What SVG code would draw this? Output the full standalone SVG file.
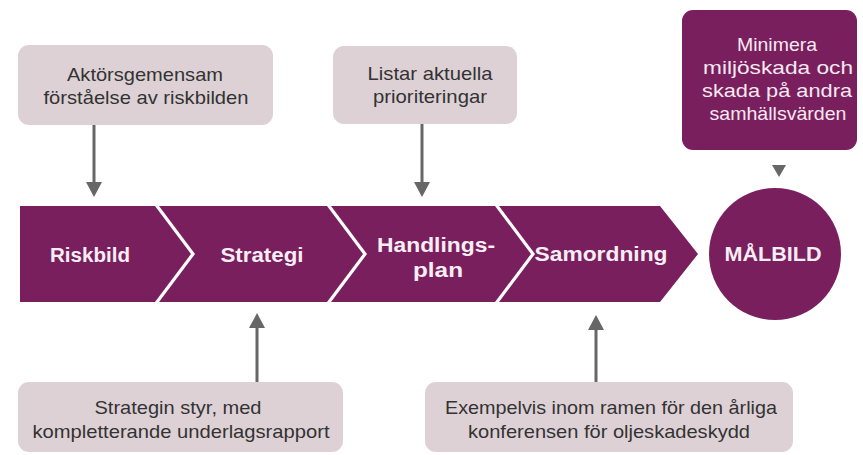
<svg xmlns="http://www.w3.org/2000/svg" width="863" height="455" viewBox="0 0 863 455">
<defs>
<style>
.band{fill:#7a1f5d}
.note{fill:#ddd1d6}
.goal{fill:#7a1f5d}
.nt{font-family:"Liberation Sans",Arial,sans-serif;font-size:19px;fill:#333;text-anchor:middle}
.gt{font-family:"Liberation Sans",Arial,sans-serif;font-size:19px;fill:#f6e9f1;text-anchor:middle}
.bt{font-family:"Liberation Sans",Arial,sans-serif;font-size:20px;font-weight:bold;fill:#f7eef4;text-anchor:middle}
.ln{stroke:#676767;stroke-width:3;fill:none}
.ah{fill:#676767}
</style>
</defs>
<rect width="863" height="455" fill="#ffffff"/>
<g id="riskbild">
<polygon class="band" points="20,206 155,206 191,254 155,302 20,302"/>
<text class="bt" x="90" y="262" textLength="80" lengthAdjust="spacingAndGlyphs">Riskbild</text>
</g>
<g id="strategi">
<polygon class="band" points="159,206 327,206 363,254 327,302 159,302 195,254"/>
<text class="bt" x="262" y="262" textLength="83" lengthAdjust="spacingAndGlyphs">Strategi</text>
</g>
<g id="handlingsplan">
<polygon class="band" points="331,206 495,206 531,254 495,302 331,302 367,254"/>
<text class="bt" x="436" y="252" textLength="118" lengthAdjust="spacingAndGlyphs">Handlings-</text>
<text class="bt" x="438" y="277" textLength="50" lengthAdjust="spacingAndGlyphs">plan</text>
</g>
<g id="samordning">
<polygon class="band" points="499,206 660,206 698,254 660,302 499,302 535,254"/>
<text class="bt" x="601" y="261" textLength="133" lengthAdjust="spacingAndGlyphs">Samordning</text>
</g>
<g id="malbild">
<circle class="goal" cx="775" cy="254" r="66"/>
<text class="bt" x="773" y="261" textLength="97" lengthAdjust="spacingAndGlyphs">MÅLBILD</text>
</g>
<g id="note-riskbild">
<rect class="note" x="18" y="45" width="255" height="80" rx="11"/>
<text class="nt" x="145" y="81" textLength="156" lengthAdjust="spacingAndGlyphs">Aktörsgemensam</text>
<text class="nt" x="146" y="104" textLength="205" lengthAdjust="spacingAndGlyphs">förståelse av riskbilden</text>
</g>
<g id="note-handlingsplan">
<rect class="note" x="333" y="46" width="184" height="78" rx="11"/>
<text class="nt" x="430" y="80" textLength="125" lengthAdjust="spacingAndGlyphs">Listar aktuella</text>
<text class="nt" x="430" y="103" textLength="114" lengthAdjust="spacingAndGlyphs">prioriteringar</text>
</g>
<g id="note-malbild">
<rect class="goal" x="682" y="10" width="175" height="140" rx="11"/>
<text class="gt" x="777" y="51" textLength="80" lengthAdjust="spacingAndGlyphs">Minimera</text>
<text class="gt" x="778" y="74" textLength="150" lengthAdjust="spacingAndGlyphs">miljöskada och</text>
<text class="gt" x="777" y="97" textLength="150" lengthAdjust="spacingAndGlyphs">skada på andra</text>
<text class="gt" x="778" y="120" textLength="137" lengthAdjust="spacingAndGlyphs">samhällsvärden</text>
</g>
<g id="note-strategi">
<rect class="note" x="18" y="382" width="325" height="70" rx="11"/>
<text class="nt" x="178" y="414" textLength="167" lengthAdjust="spacingAndGlyphs">Strategin styr, med</text>
<text class="nt" x="181" y="438" textLength="297" lengthAdjust="spacingAndGlyphs">kompletterande underlagsrapport</text>
</g>
<g id="note-samordning">
<rect class="note" x="425" y="382" width="368" height="70" rx="11"/>
<text class="nt" x="611" y="414" textLength="332" lengthAdjust="spacingAndGlyphs">Exempelvis inom ramen för den årliga</text>
<text class="nt" x="609" y="438" textLength="282" lengthAdjust="spacingAndGlyphs">konferensen för oljeskadeskydd</text>
</g>
<g id="connectors">
<line class="ln" x1="94" y1="125" x2="94" y2="184"/>
<polygon class="ah" points="86,182 102,182 94,197"/>
<line class="ln" x1="422" y1="124" x2="422" y2="184"/>
<polygon class="ah" points="414,182 430,182 422,197"/>
<polygon class="ah" points="772,165 786,165 779,177"/>
<line class="ln" x1="257" y1="382" x2="257" y2="326"/>
<polygon class="ah" points="249,328 265,328 257,313"/>
<line class="ln" x1="596" y1="382" x2="596" y2="328"/>
<polygon class="ah" points="588,330 604,330 596,315"/>
</g>
</svg>
